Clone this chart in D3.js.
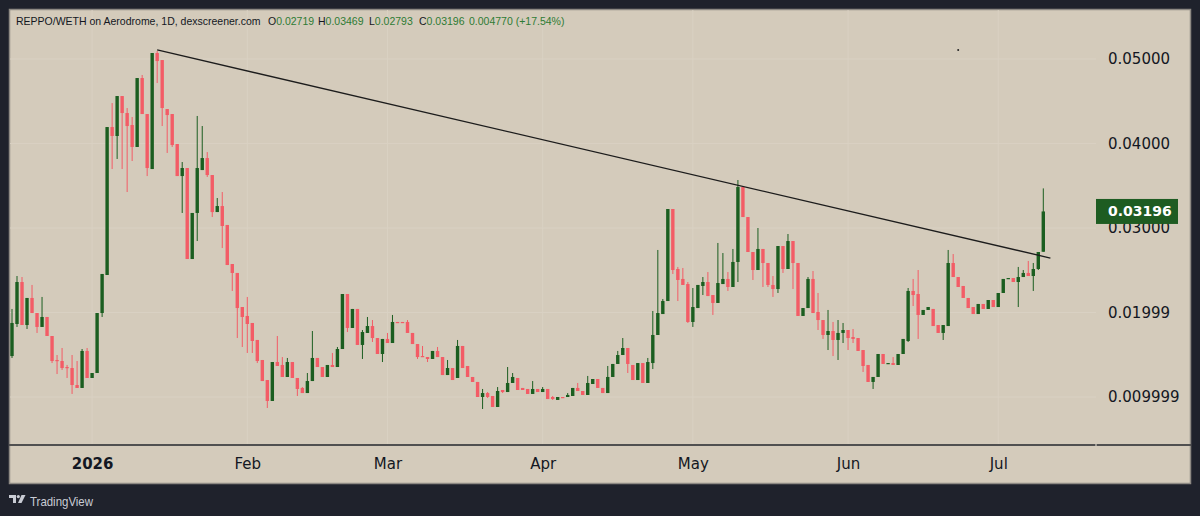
<!DOCTYPE html>
<html>
<head>
<meta charset="utf-8">
<script src="https://cdn.jsdelivr.net/npm/d3@7"></script>
<style>
  body { margin: 0; background: #1f222c; }
  svg { display: block; }
</style>
</head>
<body>
<div id="chart"></div>
<script>
// Daily candles, first one on 2025-12-16
var firstDay = "2025-12-16";

var opens = [
  0.01485, 0.01864, 0.02361, 0.01852, 0.02172, 0.01994, 0.01829, 0.01947, 0.01722, 0.01438,
  0.01426, 0.01355, 0.01343, 0.01142, 0.01107, 0.01545, 0.01225, 0.01284, 0.01994, 0.02444,
  0.04195, 0.04089, 0.04562, 0.04361, 0.04219, 0.03959, 0.04775, 0.04349, 0.03698, 0.05071,
  0.04988, 0.04408, 0.04349, 0.03994, 0.03615, 0.03710, 0.02633, 0.03178, 0.03686, 0.03828,
  0.03627, 0.03189, 0.03260, 0.03036, 0.02574, 0.02468, 0.02065, 0.01959, 0.01876, 0.01675,
  0.01438, 0.01201, 0.00953, 0.01414, 0.01379, 0.01237, 0.01414, 0.01225, 0.01107, 0.01047,
  0.01189, 0.01462, 0.01355, 0.01237, 0.01379, 0.01355, 0.01568, 0.02219, 0.01817, 0.02042,
  0.01616, 0.01758, 0.01840, 0.01698, 0.01509, 0.01687, 0.01639, 0.01888, 0.01888, 0.01888,
  0.01758, 0.01627, 0.01485, 0.01473, 0.01450, 0.01545, 0.01473, 0.01260, 0.01343, 0.01225,
  0.01604, 0.01367, 0.01237, 0.01178, 0.01000, 0.01047, 0.01012, 0.00882, 0.01083, 0.01059,
  0.01166, 0.01225, 0.01107, 0.01095, 0.01036, 0.01095, 0.01059, 0.01095, 0.01000, 0.00965,
  0.01000, 0.01000, 0.01012, 0.01107, 0.01071, 0.01024, 0.01154, 0.01213, 0.01107, 0.01047,
  0.01237, 0.01391, 0.01497, 0.01580, 0.01379, 0.01201, 0.01402, 0.01166, 0.01402, 0.01734,
  0.01982, 0.02136, 0.03225, 0.02515, 0.02397, 0.02337, 0.01888, 0.02053, 0.02314, 0.02361,
  0.02207, 0.02113, 0.02337, 0.02397, 0.02302, 0.02598, 0.03485, 0.03130, 0.02716, 0.02503,
  0.02752, 0.02586, 0.02326, 0.02278, 0.02787, 0.02515, 0.02846, 0.02586, 0.01959, 0.02053,
  0.02397, 0.02006, 0.01911, 0.01734, 0.01781, 0.01675, 0.01758, 0.01793, 0.01710, 0.01698,
  0.01556, 0.01379, 0.01178, 0.01237, 0.01509, 0.01391, 0.01402, 0.01379, 0.01509, 0.01663,
  0.02255, 0.02219, 0.01971, 0.02030, 0.02042, 0.01852, 0.01758, 0.01840, 0.02586, 0.02420,
  0.02314, 0.02172, 0.02065, 0.01982, 0.02101, 0.02042, 0.02148, 0.02065, 0.02231, 0.02397,
  0.02408, 0.02361, 0.02420, 0.02468, 0.02432, 0.02515, 0.02719
];

var highs = [
  0.02042, 0.02432, 0.02420, 0.02172, 0.02326, 0.01994, 0.02184, 0.01947, 0.01722, 0.01497,
  0.01580, 0.01379, 0.01497, 0.01426, 0.01568, 0.01580, 0.01284, 0.01994, 0.02456, 0.04195,
  0.04479, 0.04562, 0.04562, 0.04420, 0.04314, 0.04775, 0.04811, 0.04349, 0.05071, 0.05095,
  0.04988, 0.04408, 0.04349, 0.03994, 0.03781, 0.03710, 0.03178, 0.04326, 0.04207, 0.03899,
  0.03627, 0.03355, 0.03426, 0.03036, 0.02574, 0.02468, 0.02065, 0.02184, 0.01876, 0.01675,
  0.01438, 0.01201, 0.01414, 0.01722, 0.01473, 0.01462, 0.01414, 0.01225, 0.01118, 0.01284,
  0.01781, 0.01462, 0.01355, 0.01379, 0.01521, 0.01592, 0.02219, 0.02219, 0.02042, 0.02042,
  0.01793, 0.01947, 0.01911, 0.01698, 0.01687, 0.01758, 0.01971, 0.01888, 0.01888, 0.01911,
  0.01758, 0.01627, 0.01604, 0.01473, 0.01545, 0.01592, 0.01473, 0.01438, 0.01343, 0.01675,
  0.01604, 0.01367, 0.01237, 0.01178, 0.01095, 0.01059, 0.01012, 0.01118, 0.01083, 0.01355,
  0.01284, 0.01225, 0.01107, 0.01095, 0.01189, 0.01095, 0.01118, 0.01095, 0.01012, 0.01000,
  0.01000, 0.01047, 0.01107, 0.01166, 0.01071, 0.01249, 0.01213, 0.01213, 0.01107, 0.01367,
  0.01391, 0.01545, 0.01698, 0.01580, 0.01379, 0.01402, 0.01402, 0.01462, 0.02018, 0.02740,
  0.02160, 0.03225, 0.03225, 0.02539, 0.02527, 0.02361, 0.02290, 0.02326, 0.02420, 0.02479,
  0.02207, 0.02823, 0.02704, 0.02479, 0.02752, 0.03568, 0.03485, 0.03130, 0.02716, 0.03000,
  0.02752, 0.02586, 0.02432, 0.02787, 0.02787, 0.02929, 0.02846, 0.02586, 0.02053, 0.02420,
  0.02491, 0.02231, 0.01911, 0.02030, 0.01888, 0.01911, 0.01876, 0.01793, 0.01805, 0.01698,
  0.01556, 0.01379, 0.01237, 0.01509, 0.01509, 0.01402, 0.01473, 0.01509, 0.01687, 0.02290,
  0.02397, 0.02503, 0.02030, 0.02065, 0.02042, 0.01852, 0.01852, 0.02740, 0.02692, 0.02420,
  0.02314, 0.02172, 0.02065, 0.02101, 0.02101, 0.02148, 0.02148, 0.02231, 0.02397, 0.02408,
  0.02408, 0.02539, 0.02503, 0.02610, 0.02586, 0.02716, 0.03469
];

var lows = [
  0.01462, 0.01829, 0.01852, 0.01805, 0.01994, 0.01758, 0.01829, 0.01722, 0.01402, 0.01272,
  0.01320, 0.01225, 0.01036, 0.01107, 0.01107, 0.01225, 0.01225, 0.01284, 0.01947, 0.02444,
  0.03698, 0.03817, 0.03698, 0.03426, 0.03793, 0.03959, 0.04349, 0.03615, 0.03698, 0.04716,
  0.04207, 0.03888, 0.03959, 0.03615, 0.03178, 0.02633, 0.02633, 0.02846, 0.03686, 0.03604,
  0.03130, 0.03189, 0.02763, 0.02562, 0.02255, 0.01698, 0.01592, 0.01521, 0.01521, 0.01402,
  0.01189, 0.00870, 0.00953, 0.01367, 0.01237, 0.01237, 0.01225, 0.01012, 0.01047, 0.01047,
  0.01189, 0.01355, 0.01237, 0.01237, 0.01355, 0.01355, 0.01568, 0.01769, 0.01817, 0.01616,
  0.01450, 0.01758, 0.01651, 0.01509, 0.01414, 0.01639, 0.01639, 0.01876, 0.01876, 0.01758,
  0.01627, 0.01450, 0.01473, 0.01414, 0.01450, 0.01473, 0.01260, 0.01260, 0.01201, 0.01225,
  0.01343, 0.01237, 0.01178, 0.01000, 0.00858, 0.00988, 0.00882, 0.00882, 0.01047, 0.01059,
  0.01166, 0.01083, 0.01083, 0.01036, 0.01036, 0.01059, 0.01059, 0.00976, 0.00965, 0.00965,
  0.00988, 0.01000, 0.01012, 0.01071, 0.01024, 0.01024, 0.01154, 0.01107, 0.01047, 0.01047,
  0.01237, 0.01391, 0.01497, 0.01284, 0.01201, 0.01201, 0.01166, 0.01166, 0.01331, 0.01734,
  0.01982, 0.02136, 0.02456, 0.02136, 0.02326, 0.01876, 0.01829, 0.02053, 0.02207, 0.02195,
  0.01971, 0.02113, 0.02337, 0.02255, 0.02302, 0.02361, 0.03130, 0.02716, 0.02385, 0.02503,
  0.02302, 0.02302, 0.02184, 0.02231, 0.02468, 0.02515, 0.02278, 0.01959, 0.01959, 0.02053,
  0.01994, 0.01793, 0.01687, 0.01556, 0.01485, 0.01438, 0.01639, 0.01556, 0.01639, 0.01545,
  0.01296, 0.01178, 0.01095, 0.01237, 0.01391, 0.01391, 0.01379, 0.01379, 0.01509, 0.01651,
  0.02077, 0.01687, 0.01971, 0.02030, 0.01840, 0.01758, 0.01675, 0.01840, 0.02420, 0.02302,
  0.02172, 0.02053, 0.01982, 0.01982, 0.02042, 0.02042, 0.02065, 0.02065, 0.02231, 0.02397,
  0.02361, 0.02065, 0.02420, 0.02432, 0.02255, 0.02503, 0.02719
];

var closes = [
  0.01876, 0.02361, 0.01852, 0.02172, 0.01994, 0.01829, 0.01947, 0.01722, 0.01426, 0.01426,
  0.01343, 0.01343, 0.01142, 0.01107, 0.01545, 0.01225, 0.01284, 0.01994, 0.02456, 0.04195,
  0.04089, 0.04562, 0.04361, 0.04207, 0.03959, 0.04775, 0.04349, 0.03710, 0.05071, 0.04976,
  0.04420, 0.04337, 0.03982, 0.03615, 0.03710, 0.02633, 0.03178, 0.03710, 0.03828, 0.03627,
  0.03189, 0.03260, 0.03024, 0.02562, 0.02468, 0.02053, 0.01947, 0.01864, 0.01663, 0.01426,
  0.01189, 0.00953, 0.01414, 0.01367, 0.01237, 0.01414, 0.01225, 0.01095, 0.01047, 0.01189,
  0.01462, 0.01355, 0.01237, 0.01379, 0.01355, 0.01568, 0.02219, 0.01817, 0.02042, 0.01616,
  0.01769, 0.01840, 0.01698, 0.01509, 0.01687, 0.01639, 0.01888, 0.01876, 0.01876, 0.01758,
  0.01627, 0.01473, 0.01473, 0.01450, 0.01545, 0.01473, 0.01260, 0.01343, 0.01201, 0.01604,
  0.01343, 0.01237, 0.01178, 0.01000, 0.01047, 0.01000, 0.00882, 0.01071, 0.01059, 0.01166,
  0.01237, 0.01083, 0.01083, 0.01036, 0.01095, 0.01059, 0.01095, 0.00976, 0.00976, 0.01000,
  0.00988, 0.01024, 0.01107, 0.01071, 0.01024, 0.01166, 0.01213, 0.01107, 0.01047, 0.01237,
  0.01391, 0.01497, 0.01580, 0.01391, 0.01201, 0.01402, 0.01166, 0.01414, 0.01734, 0.01994,
  0.02136, 0.03225, 0.02503, 0.02385, 0.02326, 0.01888, 0.02065, 0.02326, 0.02361, 0.02195,
  0.02113, 0.02349, 0.02397, 0.02302, 0.02598, 0.03485, 0.03130, 0.02716, 0.02503, 0.02752,
  0.02586, 0.02326, 0.02278, 0.02787, 0.02515, 0.02846, 0.02586, 0.01959, 0.02053, 0.02397,
  0.01994, 0.01911, 0.01734, 0.01781, 0.01675, 0.01758, 0.01793, 0.01698, 0.01687, 0.01545,
  0.01367, 0.01178, 0.01237, 0.01509, 0.01391, 0.01402, 0.01379, 0.01509, 0.01687, 0.02255,
  0.02207, 0.01971, 0.02030, 0.02065, 0.01840, 0.01758, 0.01852, 0.02586, 0.02420, 0.02302,
  0.02172, 0.02053, 0.01982, 0.02101, 0.02042, 0.02148, 0.02065, 0.02231, 0.02397, 0.02408,
  0.02361, 0.02420, 0.02468, 0.02432, 0.02515, 0.02716, 0.03196
];

// Axis ticks
var priceTicks = [0.05, 0.04, 0.03, 0.02, 0.01];
var priceTickLabels = ["0.05000", "0.04000", "0.03000", "0.01999", "0.009999"];
var monthTicks = ["2026-01-01", "2026-02-01", "2026-03-01", "2026-04-01", "2026-05-01", "2026-06-01", "2026-07-01"];
var monthLabels = ["2026", "Feb", "Mar", "Apr", "May", "Jun", "Jul"];

// Drawn trend line (date, price)
var trendDates = ["2026-01-14T00:00", "2026-07-11T10:00"];
var trendPrices = [0.05107, 0.02645];
var markDate = "2026-06-23T00:00";
var markPrice = 0.05107;

// Header legend
var pairTitle = "REPPO/WETH on Aerodrome, 1D, dexscreener.com";
var legendKeys = ["O", "H", "L", "C"];
var legendValues = ["0.02719", "0.03469", "0.02793", "0.03196"];
var legendChange = "0.004770 (+17.54%)";
var lastPrice = 0.03196;

// Colours
var bgColor = "#d4cbbb";
var upColor = "#1b5e20";
var downColor = "#f35c66";
var textColor = "#131722";
var legendGreen = "#2e7b34";

var W = 1200, H = 516;
var panel = {left: 9, top: 9, right: 1191, bottom: 484};
var plotRight = 1096, plotBottom = 445;
var bodyWidth = 3.4;

var parseTime = d3.utcParse("%Y-%m-%dT%H:%M");
var parseDay = d3.utcParse("%Y-%m-%d");
var day0 = parseDay(firstDay);

var candles = opens.map((o, i) => ({
  date: d3.utcDay.offset(day0, i),
  open: o, high: highs[i], low: lows[i], close: closes[i]
}));

var svg = d3.select("#chart").append("svg")
  .attr("width", W)
  .attr("height", H)
  .style("font-family", "'DejaVu Sans', sans-serif");

// Scales
var xScale = d3.scaleUtc()
  .domain([candles[0].date, candles[candles.length - 1].date])
  .range([12, 1043.3]);
var yScale = d3.scaleLinear()
  .domain([0.00432, 0.05592])
  .range([plotBottom, panel.top]);

// Panel background
svg.append("rect")
  .attr("x", panel.left + 0.5)
  .attr("y", panel.top + 0.5)
  .attr("width", panel.right - panel.left - 1)
  .attr("height", panel.bottom - panel.top - 1)
  .attr("fill", bgColor)
  .attr("stroke", "#8e8a84")
  .attr("stroke-width", 1.5);

svg.append("clipPath").attr("id", "plotClip")
  .append("rect")
  .attr("x", panel.left + 1)
  .attr("y", panel.top + 1)
  .attr("width", plotRight - panel.left - 1)
  .attr("height", plotBottom - panel.top - 2);

// Faint grid
var gridG = svg.append("g").attr("clip-path", "url(#plotClip)");
gridG.selectAll(".vgrid")
  .data(monthTicks)
  .enter().append("line")
  .attr("x1", d => xScale(parseDay(d)))
  .attr("x2", d => xScale(parseDay(d)))
  .attr("y1", panel.top)
  .attr("y2", plotBottom)
  .attr("stroke", "#d9d1c3")
  .attr("stroke-width", 1);
gridG.selectAll(".hgrid")
  .data(priceTicks)
  .enter().append("line")
  .attr("x1", panel.left)
  .attr("x2", plotRight)
  .attr("y1", d => yScale(d))
  .attr("y2", d => yScale(d))
  .attr("stroke", "#d9d1c3")
  .attr("stroke-width", 1);

// Candles
var candleG = svg.append("g").attr("clip-path", "url(#plotClip)");
var candleEnter = candleG.selectAll(".candle")
  .data(candles)
  .enter().append("g")
  .attr("class", "candle");

candleEnter.append("line")
  .attr("x1", d => xScale(d.date))
  .attr("x2", d => xScale(d.date))
  .attr("y1", d => yScale(d.high))
  .attr("y2", d => yScale(d.low))
  .attr("stroke", d => d.close >= d.open ? upColor : downColor)
  .attr("stroke-width", 1);

candleEnter.append("rect")
  .attr("x", d => xScale(d.date) - bodyWidth / 2)
  .attr("width", bodyWidth)
  .attr("y", d => yScale(Math.max(d.open, d.close)))
  .attr("height", d => Math.max(1.2, Math.abs(yScale(d.open) - yScale(d.close))))
  .attr("fill", d => d.close >= d.open ? upColor : downColor);

// Trend line
var trend = trendDates.map((t, i) => ({date: parseTime(t), price: trendPrices[i]}));
svg.append("path")
  .datum(trend)
  .attr("d", d3.line().x(d => xScale(d.date)).y(d => yScale(d.price)))
  .attr("fill", "none")
  .attr("stroke", "#1c1c1c")
  .attr("stroke-width", 1.3);

svg.append("circle")
  .attr("cx", xScale(parseTime(markDate)))
  .attr("cy", yScale(markPrice))
  .attr("r", 1)
  .attr("fill", "#222");

// Time axis separator
svg.append("line")
  .attr("x1", panel.left).attr("x2", panel.right)
  .attr("y1", plotBottom).attr("y2", plotBottom)
  .attr("stroke", "#505050")
  .attr("stroke-width", 2);
svg.append("rect")
  .attr("x", plotRight - 0.5).attr("y", plotBottom - 1)
  .attr("width", 1).attr("height", 2)
  .attr("fill", "#e8e2d6");

// Time axis
var xAxis = d3.axisBottom(xScale)
  .tickValues(monthTicks.map(parseDay))
  .tickFormat((d, i) => monthLabels[i])
  .tickSize(0)
  .tickPadding(13);
var xAxisG = svg.append("g")
  .attr("transform", "translate(0," + plotBottom + ")")
  .call(xAxis);
xAxisG.select(".domain").remove();
xAxisG.selectAll("text")
  .attr("fill", textColor)
  .style("font-family", "'DejaVu Sans', sans-serif")
  .style("font-size", "15px")
  .style("font-weight", (d, i) => i === 0 ? "bold" : "normal");

// Price axis
var yAxis = d3.axisRight(yScale)
  .tickValues(priceTicks)
  .tickFormat((d, i) => priceTickLabels[i])
  .tickSize(0)
  .tickPadding(12);
var yAxisG = svg.append("g")
  .attr("transform", "translate(" + plotRight + ",0)")
  .call(yAxis);
yAxisG.select(".domain").remove();
yAxisG.selectAll("text")
  .attr("fill", textColor)
  .style("font-family", "'DejaVu Sans', sans-serif")
  .style("font-size", "15px");

// Last price label
svg.append("rect")
  .attr("x", plotRight)
  .attr("y", yScale(lastPrice) - 12.5)
  .attr("width", 82)
  .attr("height", 25)
  .attr("fill", "#1e5c22");
svg.append("text")
  .attr("x", plotRight + 12)
  .attr("y", yScale(lastPrice))
  .attr("dy", "0.35em")
  .attr("fill", "#ffffff")
  .style("font-size", "14px")
  .style("font-weight", "bold")
  .text(d3.format(".5f")(lastPrice));

// Header legend (font sized so every piece fits its slot)
var legendG = svg.append("g")
  .style("font-family", "'Liberation Sans', Arial, sans-serif")
  .style("font-size", "10.5px");
legendG.append("text")
  .attr("x", 16).attr("y", 25)
  .attr("fill", textColor)
  .text(pairTitle);
var keyX = [268, 318, 369, 419];
legendKeys.forEach((k, i) => {
  var t = legendG.append("text")
    .attr("x", keyX[i]).attr("y", 25);
  t.append("tspan").attr("fill", textColor).text(k);
  t.append("tspan").attr("fill", legendGreen).text(legendValues[i]);
});
legendG.append("text")
  .attr("x", 469).attr("y", 25)
  .attr("fill", legendGreen)
  .text(legendChange);

// TradingView mark
var logoG = svg.append("g").attr("fill", "#c9ccd4");
logoG.append("path")
  .attr("d", "M9,495 h7 v8 h-3 v-5 h-4 z");
logoG.append("circle").attr("cx", 18.3).attr("cy", 496.6).attr("r", 1.6);
logoG.append("path")
  .attr("d", "M21.5,495 h4 l-4,8 h-3.5 z");
logoG.append("text")
  .attr("x", 30).attr("y", 506)
  .style("font-family", "'Liberation Sans', Arial, sans-serif")
  .style("font-size", "13px")
  .attr("textLength", 63)
  .attr("lengthAdjust", "spacingAndGlyphs")
  .text("TradingView");
</script>
</body>
</html>
